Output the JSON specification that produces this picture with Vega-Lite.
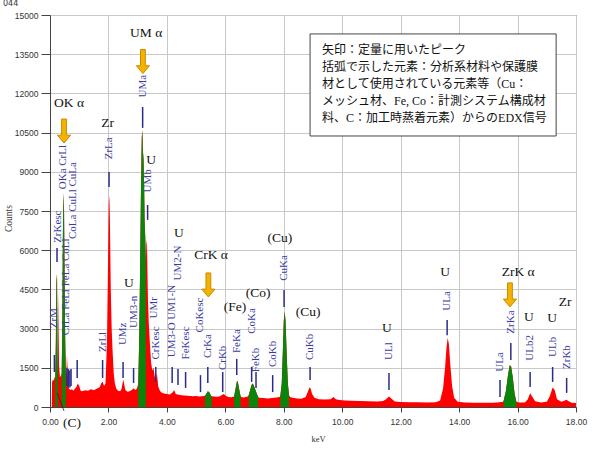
{
  "$schema": "https://vega.github.io/schema/vega-lite/v6.json",
  "width": 526,
  "height": 392,
  "autosize": "none",
  "padding": {"left": 50, "top": 15, "right": 17, "bottom": 43},
  "background": "white",
  "title": {"text": "044", "anchor": "start", "fontSize": 8, "font": "DejaVu Sans", "fontWeight": "normal", "color": "#333", "offset": 3},
  "config": {
    "view": {"stroke": "#444", "strokeWidth": 1},
    "axis": {"gridColor": "#c8c8c8", "gridWidth": 1, "domainColor": "#444", "tickColor": "#444", "labelColor": "#333", "labelFont": "Liberation Sans", "labelFontSize": 8.5, "labelOverlap": false, "titleFont": "Liberation Serif", "titleFontSize": 9.5, "titleFontWeight": "normal", "titleColor": "#333"}
  },
  "datasets": {
    "spec": [
      {"e": 0.0, "c": 0}, {"e": 0.06, "c": 0}, {"e": 0.07, "c": 950}, {"e": 0.10, "c": 1050}, {"e": 0.13, "c": 1000}, {"e": 0.16, "c": 1150},
      {"e": 0.18, "c": 1100, "s": "A"}, {"e": 0.20, "c": 2500, "s": "A"}, {"e": 0.22, "c": 4800, "s": "A"}, {"e": 0.24, "c": 5100, "s": "A"}, {"e": 0.26, "c": 2000, "s": "A"}, {"e": 0.27, "c": 1200, "s": "A"},
      {"e": 0.29, "c": 4500}, {"e": 0.31, "c": 1600}, {"e": 0.34, "c": 1150}, {"e": 0.38, "c": 1200},
      {"e": 0.40, "c": 1300, "s": "B"}, {"e": 0.42, "c": 3000, "s": "B"}, {"e": 0.44, "c": 6500, "s": "B"}, {"e": 0.46, "c": 8200, "s": "B"}, {"e": 0.48, "c": 7600, "s": "B"}, {"e": 0.50, "c": 5000, "s": "B"}, {"e": 0.52, "c": 2600, "s": "B"}, {"e": 0.54, "c": 1400, "s": "B"},
      {"e": 0.56, "c": 1200}, {"e": 0.58, "c": 2000}, {"e": 0.60, "c": 1500}, {"e": 0.62, "c": 900}, {"e": 0.65, "c": 700}, {"e": 0.70, "c": 650}, {"e": 0.75, "c": 680}, {"e": 0.80, "c": 620}, {"e": 0.85, "c": 700}, {"e": 0.90, "c": 760}, {"e": 0.95, "c": 900}, {"e": 1.00, "c": 800}, {"e": 1.05, "c": 620}, {"e": 1.10, "c": 600}, {"e": 1.20, "c": 640}, {"e": 1.30, "c": 620}, {"e": 1.40, "c": 680}, {"e": 1.50, "c": 640}, {"e": 1.60, "c": 700}, {"e": 1.70, "c": 760}, {"e": 1.75, "c": 900}, {"e": 1.80, "c": 980}, {"e": 1.85, "c": 800}, {"e": 1.90, "c": 900}, {"e": 1.95, "c": 2500}, {"e": 1.98, "c": 5000}, {"e": 2.01, "c": 7800}, {"e": 2.03, "c": 8100}, {"e": 2.05, "c": 7200}, {"e": 2.08, "c": 4500}, {"e": 2.11, "c": 3000}, {"e": 2.14, "c": 2200}, {"e": 2.18, "c": 1300}, {"e": 2.22, "c": 900}, {"e": 2.27, "c": 700}, {"e": 2.33, "c": 620}, {"e": 2.40, "c": 600}, {"e": 2.45, "c": 700}, {"e": 2.48, "c": 900}, {"e": 2.51, "c": 1050}, {"e": 2.54, "c": 850}, {"e": 2.58, "c": 650}, {"e": 2.65, "c": 580}, {"e": 2.72, "c": 600}, {"e": 2.80, "c": 650}, {"e": 2.86, "c": 720}, {"e": 2.92, "c": 650}, {"e": 2.97, "c": 700}, {"e": 3.00, "c": 800},
      {"e": 3.02, "c": 900, "s": "C"}, {"e": 3.05, "c": 2500, "s": "C"}, {"e": 3.08, "c": 5000, "s": "C"}, {"e": 3.11, "c": 8000, "s": "C"}, {"e": 3.14, "c": 10300, "s": "C"}, {"e": 3.16, "c": 10600, "s": "C"}, {"e": 3.18, "c": 9800, "s": "C"}, {"e": 3.20, "c": 9500, "s": "C"}, {"e": 3.22, "c": 8500, "s": "C"}, {"e": 3.24, "c": 7000, "s": "C"}, {"e": 3.26, "c": 6500, "s": "C"}, {"e": 3.28, "c": 5500, "s": "C"},
      {"e": 3.30, "c": 6400}, {"e": 3.32, "c": 6200}, {"e": 3.35, "c": 4200}, {"e": 3.38, "c": 3200}, {"e": 3.42, "c": 2400}, {"e": 3.46, "c": 1700}, {"e": 3.50, "c": 1400}, {"e": 3.54, "c": 1500}, {"e": 3.58, "c": 1200}, {"e": 3.62, "c": 1000}, {"e": 3.66, "c": 1300}, {"e": 3.70, "c": 800}, {"e": 3.75, "c": 650}, {"e": 3.80, "c": 560}, {"e": 3.90, "c": 520}, {"e": 4.00, "c": 500}, {"e": 4.10, "c": 480}, {"e": 4.20, "c": 560}, {"e": 4.25, "c": 650}, {"e": 4.30, "c": 500}, {"e": 4.40, "c": 470}, {"e": 4.50, "c": 450}, {"e": 4.60, "c": 440}, {"e": 4.70, "c": 430}, {"e": 4.80, "c": 420}, {"e": 4.90, "c": 410}, {"e": 5.00, "c": 420}, {"e": 5.10, "c": 400}, {"e": 5.20, "c": 410}, {"e": 5.28, "c": 420},
      {"e": 5.30, "c": 430, "s": "D"}, {"e": 5.35, "c": 500, "s": "D"}, {"e": 5.40, "c": 600, "s": "D"}, {"e": 5.45, "c": 560, "s": "D"}, {"e": 5.50, "c": 450, "s": "D"}, {"e": 5.53, "c": 410, "s": "D"},
      {"e": 5.60, "c": 400}, {"e": 5.70, "c": 390}, {"e": 5.80, "c": 400}, {"e": 5.90, "c": 470}, {"e": 5.95, "c": 500}, {"e": 6.00, "c": 440}, {"e": 6.10, "c": 380}, {"e": 6.20, "c": 370}, {"e": 6.28, "c": 390},
      {"e": 6.30, "c": 400, "s": "E"}, {"e": 6.35, "c": 700, "s": "E"}, {"e": 6.40, "c": 1000, "s": "E"}, {"e": 6.43, "c": 950, "s": "E"}, {"e": 6.47, "c": 700, "s": "E"}, {"e": 6.52, "c": 420, "s": "E"},
      {"e": 6.55, "c": 380}, {"e": 6.62, "c": 360}, {"e": 6.70, "c": 380}, {"e": 6.77, "c": 400},
      {"e": 6.80, "c": 450, "s": "F"}, {"e": 6.85, "c": 650, "s": "F"}, {"e": 6.90, "c": 850, "s": "F"}, {"e": 6.94, "c": 900, "s": "F"}, {"e": 6.98, "c": 800, "s": "F"}, {"e": 7.03, "c": 650, "s": "F"}, {"e": 7.08, "c": 500, "s": "F"}, {"e": 7.12, "c": 400, "s": "F"},
      {"e": 7.15, "c": 350}, {"e": 7.30, "c": 340}, {"e": 7.45, "c": 330}, {"e": 7.60, "c": 340}, {"e": 7.75, "c": 360}, {"e": 7.85, "c": 380},
      {"e": 7.88, "c": 400, "s": "G"}, {"e": 7.93, "c": 900, "s": "G"}, {"e": 7.97, "c": 2200, "s": "G"}, {"e": 8.00, "c": 3300, "s": "G"}, {"e": 8.03, "c": 3650, "s": "G"}, {"e": 8.06, "c": 3300, "s": "G"}, {"e": 8.10, "c": 2000, "s": "G"}, {"e": 8.14, "c": 900, "s": "G"}, {"e": 8.18, "c": 450, "s": "G"},
      {"e": 8.22, "c": 380}, {"e": 8.30, "c": 350}, {"e": 8.45, "c": 330}, {"e": 8.60, "c": 320}, {"e": 8.75, "c": 380}, {"e": 8.83, "c": 600}, {"e": 8.88, "c": 760}, {"e": 8.92, "c": 700}, {"e": 8.97, "c": 500}, {"e": 9.05, "c": 350}, {"e": 9.20, "c": 300}, {"e": 9.40, "c": 290}, {"e": 9.60, "c": 300}, {"e": 9.70, "c": 380}, {"e": 9.78, "c": 300}, {"e": 9.90, "c": 270}, {"e": 10.1, "c": 250}, {"e": 10.3, "c": 240}, {"e": 10.6, "c": 230}, {"e": 10.9, "c": 220}, {"e": 11.2, "c": 210}, {"e": 11.4, "c": 230}, {"e": 11.5, "c": 300}, {"e": 11.6, "c": 400}, {"e": 11.68, "c": 330}, {"e": 11.8, "c": 210}, {"e": 12.0, "c": 190}, {"e": 12.3, "c": 180}, {"e": 12.6, "c": 180}, {"e": 12.9, "c": 175}, {"e": 13.2, "c": 180}, {"e": 13.35, "c": 250}, {"e": 13.45, "c": 700}, {"e": 13.52, "c": 1500}, {"e": 13.57, "c": 2300}, {"e": 13.61, "c": 2650}, {"e": 13.65, "c": 2400}, {"e": 13.70, "c": 1600}, {"e": 13.76, "c": 800}, {"e": 13.83, "c": 350}, {"e": 13.95, "c": 200}, {"e": 14.2, "c": 170}, {"e": 14.5, "c": 165}, {"e": 14.8, "c": 160}, {"e": 15.1, "c": 160}, {"e": 15.3, "c": 170}, {"e": 15.45, "c": 190}, {"e": 15.5, "c": 200},
      {"e": 15.52, "c": 220, "s": "H"}, {"e": 15.60, "c": 600, "s": "H"}, {"e": 15.67, "c": 1200, "s": "H"}, {"e": 15.73, "c": 1600, "s": "H"}, {"e": 15.78, "c": 1550, "s": "H"}, {"e": 15.84, "c": 1100, "s": "H"}, {"e": 15.90, "c": 500, "s": "H"}, {"e": 15.96, "c": 200, "s": "H"},
      {"e": 16.05, "c": 170}, {"e": 16.25, "c": 170}, {"e": 16.35, "c": 300}, {"e": 16.43, "c": 530}, {"e": 16.50, "c": 400}, {"e": 16.60, "c": 220}, {"e": 16.80, "c": 170}, {"e": 17.00, "c": 200}, {"e": 17.10, "c": 400}, {"e": 17.20, "c": 750}, {"e": 17.27, "c": 650}, {"e": 17.35, "c": 300}, {"e": 17.50, "c": 200}, {"e": 17.60, "c": 240}, {"e": 17.67, "c": 280}, {"e": 17.75, "c": 220}, {"e": 17.85, "c": 160}, {"e": 18.0, "c": 150}
    ],
    "ticks": [
      {"e": 0.15, "c": 1340, "c2": 1990},
      {"e": 0.24, "c": 5550, "c2": 6085},
      {"e": 0.58, "c": 800, "c2": 1500},
      {"e": 0.63, "c": 750, "c2": 1450},
      {"e": 0.68, "c": 750, "c2": 1400},
      {"e": 0.72, "c": 800, "c2": 1450},
      {"e": 0.93, "c": 1110, "c2": 1800},
      {"e": 1.80, "c": 1110, "c2": 1800},
      {"e": 2.02, "c": 8420, "c2": 8990},
      {"e": 2.50, "c": 1110, "c2": 1720},
      {"e": 2.86, "c": 920, "c2": 1490},
      {"e": 3.17, "c": 10680, "c2": 11480},
      {"e": 3.34, "c": 7160, "c2": 7730},
      {"e": 3.62, "c": 960, "c2": 1530},
      {"e": 4.18, "c": 920, "c2": 1530},
      {"e": 4.38, "c": 840, "c2": 1450},
      {"e": 4.64, "c": 730, "c2": 1340},
      {"e": 5.15, "c": 570, "c2": 1220},
      {"e": 5.40, "c": 920, "c2": 1530},
      {"e": 5.91, "c": 570, "c2": 1340},
      {"e": 6.39, "c": 1220, "c2": 1840},
      {"e": 6.90, "c": 960, "c2": 1530},
      {"e": 7.05, "c": 730, "c2": 1340},
      {"e": 7.62, "c": 570, "c2": 1220},
      {"e": 8.01, "c": 3830, "c2": 4480},
      {"e": 8.90, "c": 1030, "c2": 1530},
      {"e": 11.60, "c": 650, "c2": 1300},
      {"e": 13.59, "c": 2750, "c2": 3330},
      {"e": 15.40, "c": 380, "c2": 1030},
      {"e": 15.77, "c": 1800, "c2": 2450},
      {"e": 16.43, "c": 770, "c2": 1340},
      {"e": 17.20, "c": 960, "c2": 1530},
      {"e": 17.68, "c": 540, "c2": 1110}
    ],
    "lines": [
      {"e": 0.15, "c": 3400, "t": "ZrM"},
      {"e": 0.26, "c": 6900, "t": "ZrKesc"},
      {"e": 0.46, "c": 9180, "t": "OKa CrLl"},
      {"e": 0.56, "c": 4600, "t": "CrLa FeLl FeLa CoLl"},
      {"e": 0.79, "c": 7900, "t": "CoLa CuLl CuLa"},
      {"e": 1.80, "c": 2490, "t": "ZrLl"},
      {"e": 2.02, "c": 9900, "t": "ZrLa"},
      {"e": 2.50, "c": 2800, "t": "UMz"},
      {"e": 2.86, "c": 3640, "t": "UM3-n"},
      {"e": 3.17, "c": 12280, "t": "UMa"},
      {"e": 3.34, "c": 8650, "t": "UMb"},
      {"e": 3.56, "c": 3800, "t": "UMr"},
      {"e": 3.62, "c": 2450, "t": "CrKesc"},
      {"e": 4.18, "c": 3290, "t": "UM3-O UM1-N"},
      {"e": 4.38, "c": 5510, "t": "UM2-N"},
      {"e": 4.64, "c": 2450, "t": "FeKesc"},
      {"e": 5.15, "c": 3520, "t": "CoKesc"},
      {"e": 5.40, "c": 2330, "t": "CrKa"},
      {"e": 5.91, "c": 1880, "t": "CrKb"},
      {"e": 6.39, "c": 2520, "t": "FeKa"},
      {"e": 6.90, "c": 3290, "t": "CoKa"},
      {"e": 7.05, "c": 1800, "t": "FeKb"},
      {"e": 7.62, "c": 2030, "t": "CoKb"},
      {"e": 8.01, "c": 5320, "t": "CuKa"},
      {"e": 8.90, "c": 2300, "t": "CuKb"},
      {"e": 11.60, "c": 2140, "t": "ULl"},
      {"e": 13.59, "c": 4060, "t": "ULa"},
      {"e": 15.40, "c": 1720, "t": "ULa"},
      {"e": 15.77, "c": 3250, "t": "ZrKa"},
      {"e": 16.43, "c": 2260, "t": "ULb2"},
      {"e": 17.20, "c": 2300, "t": "ULb"},
      {"e": 17.68, "c": 1910, "t": "ZrKb"}
    ],
    "notes": [
      {"e": 0.65, "c": 11630, "t": "OK α"},
      {"e": 3.29, "c": 14310, "t": "UM α"},
      {"e": 1.97, "c": 10870, "t": "Zr"},
      {"e": 3.46, "c": 9450, "t": "U"},
      {"e": 2.70, "c": 4745, "t": "U"},
      {"e": 4.41, "c": 6660, "t": "U"},
      {"e": 5.51, "c": 5820, "t": "CrK α"},
      {"e": 7.87, "c": 6470, "t": "(Cu)"},
      {"e": 7.12, "c": 4360, "t": "(Co)"},
      {"e": 6.33, "c": 3830, "t": "(Fe)"},
      {"e": 8.83, "c": 3640, "t": "(Cu)"},
      {"e": 13.52, "c": 5170, "t": "U"},
      {"e": 16.02, "c": 5170, "t": "ZrK α"},
      {"e": 11.53, "c": 3020, "t": "U"},
      {"e": 16.39, "c": 3440, "t": "U"},
      {"e": 17.18, "c": 3410, "t": "U"},
      {"e": 17.63, "c": 4020, "t": "Zr"},
      {"e": 0.75, "c": -610, "t": "(C)"}
    ],
    "arrows": [
      {"e": 0.48, "c": 10560},
      {"e": 3.18, "c": 13220},
      {"e": 5.42, "c": 4670},
      {"e": 15.74, "c": 4290}
    ],
    "box": [
      {"e": 8.90, "e2": 17.32, "c": 10370, "c2": 14275}
    ],
    "boxtext": [
      {"e": 9.31, "c": 13660, "t": "矢印：定量に用いたピーク"},
      {"e": 9.31, "c": 13010, "t": "括弧で示した元素：分析系材料や保護膜"},
      {"e": 9.31, "c": 12360, "t": "材として使用されている元素等（Cu："},
      {"e": 9.31, "c": 11710, "t": "メッシュ材、Fe, Co：計測システム構成材"},
      {"e": 9.31, "c": 11060, "t": "料、C：加工時蒸着元素）からのEDX信号"}
    ],
    "pointer": [
      {"e": 0.24, "c": 540, "e2": 0.48, "c2": -150}
    ]
  },
  "layer": [
    {
      "data": {"name": "spec"},
      "mark": {"type": "area", "color": "#ff0000", "interpolate": "linear"},
      "encoding": {
        "x": {"field": "e", "type": "quantitative", "scale": {"domain": [0, 18], "nice": false, "zero": false},
              "axis": {"title": "keV", "values": [0, 2, 4, 6, 8, 10, 12, 14, 16, 18], "tickCount": 20, "format": ".2f", "grid": true, "tickSize": 5, "labelPadding": 5, "labelOverlap": false, "titleX": 268, "titleY": 31, "titleBaseline": "middle", "titleFontSize": 8.5, "labelFlush": false}},
        "y": {"field": "c", "type": "quantitative", "stack": null, "scale": {"domain": [0, 15000], "nice": false},
              "axis": {"title": "Counts", "values": [0, 1500, 3000, 4500, 6000, 7500, 9000, 10500, 12000, 13500, 15000], "tickCount": 20, "format": "d", "grid": true, "tickSize": 9, "labelPadding": 3, "labelOverlap": false, "labelFlush": false, "titleX": -42, "titleY": 203, "titleAngle": -90, "titleBaseline": "middle", "titleAlign": "center"}}
      }
    },
    {
      "data": {"name": "spec"},
      "transform": [{"filter": "isValid(datum.s)"}],
      "mark": {"type": "area", "color": "#0a840a", "interpolate": "linear"},
      "encoding": {
        "x": {"field": "e", "type": "quantitative"},
        "y": {"field": "c", "type": "quantitative", "stack": null},
        "detail": {"field": "s", "type": "nominal"}
      }
    },
    {
      "data": {"name": "ticks"},
      "mark": {"type": "rule", "color": "#2b2b8c", "strokeWidth": 1.5},
      "encoding": {
        "x": {"field": "e", "type": "quantitative"},
        "y": {"field": "c", "type": "quantitative"},
        "y2": {"field": "c2"}
      }
    },
    {
      "data": {"name": "lines"},
      "mark": {"type": "text", "angle": 270, "align": "center", "baseline": "middle", "font": "Liberation Serif", "fontSize": 11, "color": "#3a3aa0"},
      "encoding": {
        "x": {"field": "e", "type": "quantitative"},
        "y": {"field": "c", "type": "quantitative"},
        "text": {"field": "t"}
      }
    },
    {
      "data": {"name": "notes"},
      "mark": {"type": "text", "align": "center", "baseline": "middle", "font": "Liberation Serif", "fontSize": 13.5, "color": "#111"},
      "encoding": {
        "x": {"field": "e", "type": "quantitative"},
        "y": {"field": "c", "type": "quantitative"},
        "text": {"field": "t"}
      }
    },
    {
      "data": {"name": "pointer"},
      "mark": {"type": "rule", "color": "#222", "strokeWidth": 0.8},
      "encoding": {
        "x": {"field": "e", "type": "quantitative"},
        "y": {"field": "c", "type": "quantitative"},
        "x2": {"field": "e2"},
        "y2": {"field": "c2"}
      }
    },
    {
      "data": {"name": "arrows"},
      "mark": {"type": "point", "shape": "M-0.2,-1 L0.2,-1 L0.2,0.35 L0.55,0.35 L0,1 L-0.55,0.35 L-0.2,0.35 Z", "size": 576, "filled": true, "fill": "#f5b300", "stroke": "#c98a00", "strokeWidth": 1, "opacity": 1},
      "encoding": {
        "x": {"field": "e", "type": "quantitative"},
        "y": {"field": "c", "type": "quantitative"}
      }
    },
    {
      "data": {"name": "box"},
      "mark": {"type": "rect", "fill": "white", "stroke": "#444", "strokeWidth": 1},
      "encoding": {
        "x": {"field": "e", "type": "quantitative"},
        "x2": {"field": "e2"},
        "y": {"field": "c", "type": "quantitative"},
        "y2": {"field": "c2"}
      }
    },
    {
      "data": {"name": "boxtext"},
      "mark": {"type": "text", "align": "left", "baseline": "middle", "font": "Liberation Serif, Noto Sans CJK JP", "fontSize": 12, "color": "#111"},
      "encoding": {
        "x": {"field": "e", "type": "quantitative"},
        "y": {"field": "c", "type": "quantitative"},
        "text": {"field": "t"}
      }
    }
  ]
}
